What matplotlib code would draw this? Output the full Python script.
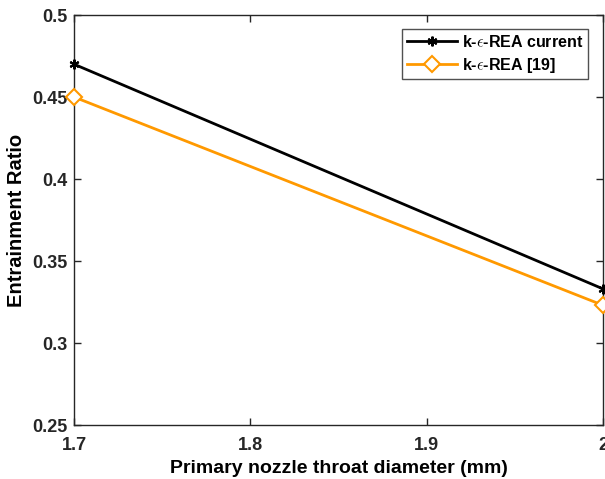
import matplotlib
matplotlib.use('Agg')
import matplotlib.pyplot as plt

plt.rcParams['font.family'] = ['Liberation Sans', 'DejaVu Sans']
plt.rcParams['font.weight'] = 'bold'
plt.rcParams['mathtext.fontset'] = 'cm'

diametro = [1.7, 2.0]
er_actual = [0.470, 0.333]
er_ref19 = [0.450, 0.323]

fig = plt.figure(figsize=(6.05, 4.79), dpi=100)
ax = fig.add_axes([74/605, 54/479, 529/605, 410/479])

ax.plot(diametro, er_actual, color='black', lw=2, marker=(6, 2, 0), ms=7, mew=1.5,
        label=r'k-$\epsilon$-REA current', clip_on=False, zorder=3)
ax.plot(diametro, er_ref19, color='#FF9900', lw=2, marker='D', ms=8, mfc='white', mew=1.5,
        label=r'k-$\epsilon$-REA [19]', clip_on=False, zorder=3)

ax.set_xlim(1.7, 2.0)
ax.set_ylim(0.25, 0.5)
ax.set_xticks([1.7, 1.8, 1.9, 2.0])
ax.set_xticklabels(['1.7', '1.8', '1.9', '2'])
ax.set_yticks([0.25, 0.3, 0.35, 0.4, 0.45, 0.5])
ax.set_yticklabels(['0.25', '0.3', '0.35', '0.4', '0.45', '0.5'])
ax.tick_params(direction='in', labelsize=13, length=5, width=1, colors='#262626',
               top=True, right=True)
ax.tick_params(axis='x', pad=9)
ax.tick_params(axis='y', pad=5)
for lab in ax.get_xticklabels() + ax.get_yticklabels():
    lab.set_fontweight('bold')
for s in ax.spines.values():
    s.set_color('#262626')
    s.set_linewidth(1)

ax.set_xlabel('Primary nozzle throat diameter (mm)', fontsize=14, fontweight='bold', labelpad=4)
ax.set_ylabel('Entrainment Ratio', fontsize=14.5, fontweight='bold', labelpad=4)

leg = ax.legend(loc='upper right', bbox_to_anchor=(0.978, 0.973), fontsize=11.5, frameon=True,
                fancybox=False, edgecolor='#262626', borderpad=0.3, handlelength=3.1,
                labelspacing=0.35, handletextpad=0.35, borderaxespad=0.2)
leg.get_frame().set_linewidth(1)
for t in leg.get_texts():
    t.set_fontweight('bold')

fig.savefig('out.png', dpi=100)
